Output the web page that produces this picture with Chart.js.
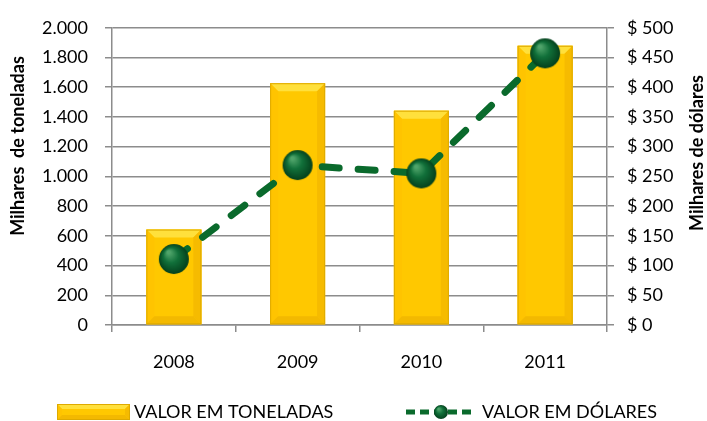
<!DOCTYPE html>
<html>
<head>
<meta charset="utf-8">
<script src="https://cdn.jsdelivr.net/npm/chart.js@4.4.0/dist/chart.umd.min.js"></script>
<style>
  html, body { margin: 0; padding: 0; background: #fff; }
  #wrap { width: 707px; height: 421px; }
</style>
</head>
<body>
<div id="wrap"><canvas id="chart" width="707" height="421"></canvas></div>
<script>
// data
const categories = ['2008', '2009', '2010', '2011'];
const toneladas  = [642, 1627, 1442, 1879];
const dolares    = [111, 269, 255, 457];
const labelToneladas = 'VALOR EM TONELADAS';
const labelDolares   = 'VALOR EM DÓLARES';
const titleLeft  = 'Milhares  de toneladas';
const titleRight = 'Milhares de dólares';

const FONT = 'Lato, "Open Sans", sans-serif';
const GRID = '#8c8c8c';
const GREEN = '#0a6a2c';

//-----------------------------------------------------------------------------
// green ball used as point style
//-----------------------------------------------------------------------------
function makeBall(r){
    const c = document.createElement('canvas');
    c.width = c.height = r * 2 + 4;
    const g = c.getContext('2d');
    const cx = r + 2, cy = r + 2;
    const grad = g.createRadialGradient(cx - r * 0.35, cy - r * 0.45, r * 0.1, cx, cy, r);
    grad.addColorStop(0, '#4fa46a');
    grad.addColorStop(0.45, '#11703a');
    grad.addColorStop(1, '#04401c');
    g.beginPath();
    g.arc(cx, cy, r, 0, Math.PI * 2);
    g.fillStyle = grad;
    g.fill();
    return c;
}
const ball = makeBall(15);
const smallBall = makeBall(7);

//-----------------------------------------------------------------------------
// gold bevelled box
//-----------------------------------------------------------------------------
function bevelBox(ctx, left, top, right, bottom, b){
    ctx.save();
    ctx.fillStyle = '#ffc800';
    ctx.fillRect(left, top, right - left, bottom - top);
    const poly = (pts, col) => {
        ctx.beginPath();
        ctx.moveTo(pts[0][0], pts[0][1]);
        pts.slice(1).forEach(p => ctx.lineTo(p[0], p[1]));
        ctx.closePath();
        ctx.fillStyle = col;
        ctx.fill();
    };
    poly([[left, top], [right, top], [right - b, top + b], [left + b, top + b]], '#ffe03c');
    poly([[left, top], [left + b, top + b], [left + b, bottom - b], [left, bottom]], '#ffc400');
    poly([[right, top], [right, bottom], [right - b, bottom - b], [right - b, top + b]], '#f6bb00');
    poly([[left, bottom], [left + b, bottom - b], [right - b, bottom - b], [right, bottom]], '#f3b900');
    ctx.strokeStyle = '#deaa00';
    ctx.lineWidth = 1;
    ctx.strokeRect(left + 0.5, top + 0.5, right - left - 1, bottom - top - 1);
    ctx.restore();
}

const fmtThousands = v => String(v).replace(/\B(?=(\d{3})+(?!\d))/g, '.');

const barBevel = {
    id: 'barBevel',
    afterDatasetDraw(chart, args){
        if (args.index !== 0) return;
        const ctx = chart.ctx;
        args.meta.data.forEach(bar => {
            const half = bar.width / 2;
            bevelBox(ctx, bar.x - half, bar.y, bar.x + half, bar.base, 8);
        });
    }
};

const extras = {
    id: 'extras',
    afterDraw(chart){
        const ctx = chart.ctx;
        ctx.save();
        // axis titles, both read bottom to top
        ctx.fillStyle = '#000';
        ctx.font = 'bold 18px ' + FONT;
        ctx.textAlign = 'center';
        ctx.textBaseline = 'middle';
        [[titleLeft, 18, 146], [titleRight, 697, 153]].forEach(t => {
            ctx.save();
            ctx.translate(t[1], t[2]);
            ctx.rotate(-Math.PI / 2);
            ctx.fillText(t[0], 0, 0);
            ctx.restore();
        });
        // legend
        const ly = 412;
        bevelBox(ctx, 57, ly - 8, 130, ly + 8, 5);
        ctx.font = '18px ' + FONT;
        ctx.textAlign = 'left';
        ctx.fillStyle = '#000';
        ctx.fillText(labelToneladas, 134, ly);
        ctx.strokeStyle = GREEN;
        ctx.lineWidth = 5;
        ctx.lineCap = 'butt';
        ctx.setLineDash([9, 5]);
        ctx.beginPath();
        ctx.moveTo(406, ly);
        ctx.lineTo(476, ly);
        ctx.stroke();
        ctx.drawImage(smallBall, 441 - smallBall.width / 2, ly - smallBall.height / 2);
        ctx.fillText(labelDolares, 482, ly);
        ctx.restore();
    }
};

const ctx = document.getElementById('chart').getContext('2d');
new Chart(ctx, {
    data: {
        labels: categories,
        datasets: [
            {
                type: 'bar',
                label: labelToneladas,
                data: toneladas,
                yAxisID: 'y',
                backgroundColor: '#ffc800',
                barPercentage: 0.444,
                categoryPercentage: 1,
                order: 2
            },
            {
                type: 'line',
                label: labelDolares,
                data: dolares,
                yAxisID: 'y1',
                borderColor: GREEN,
                borderWidth: 7,
                borderDash: [17, 19],
                borderCapStyle: 'round',
                pointStyle: ball,
                pointRadius: 15,
                tension: 0,
                order: 1
            }
        ]
    },
    options: {
        responsive: false,
        animation: false,
        layout: { padding: { top: 23, left: 0, right: 0, bottom: 0 } },
        plugins: {
            legend: { display: false },
            tooltip: { enabled: false }
        },
        scales: {
            x: {
                offset: true,
                afterFit: s => { s.height = 96; },
                grid: { display: true, drawOnChartArea: false, offset: true, tickLength: 7, color: GRID, lineWidth: 1.5 },
                border: { color: GRID, width: 1.5 },
                ticks: { color: '#000', font: { family: FONT, size: 18 }, padding: 19 }
            },
            y: {
                position: 'left',
                min: 0, max: 2000,
                afterFit: s => { s.width = 112; },
                grid: { color: GRID, lineWidth: 1.5, tickLength: 7 },
                border: { color: GRID, width: 1.5 },
                ticks: {
                    stepSize: 200,
                    color: '#000',
                    font: { family: FONT, size: 18 },
                    padding: 17,
                    callback: v => fmtThousands(v)
                }
            },
            y1: {
                position: 'right',
                min: 0, max: 500,
                afterFit: s => { s.width = 100; },
                grid: { drawOnChartArea: false, color: GRID, lineWidth: 1.5, tickLength: 7 },
                border: { color: GRID, width: 1.5 },
                ticks: {
                    stepSize: 50,
                    color: '#000',
                    font: { family: FONT, size: 18 },
                    padding: 13,
                    callback: v => '$ ' + v
                }
            }
        }
    },
    plugins: [barBevel, extras]
});
</script>
</body>
</html>
